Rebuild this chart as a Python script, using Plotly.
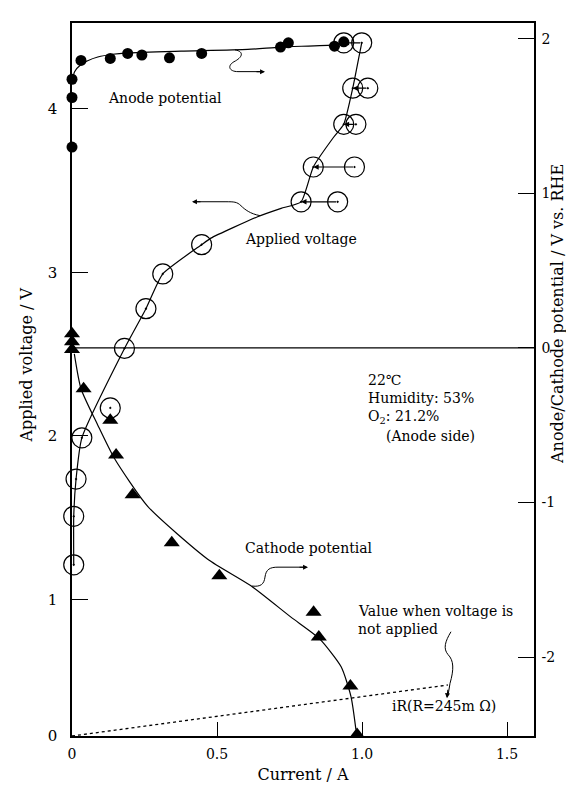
import plotly.graph_objects as go

# ---------------- data ----------------
# Applied voltage (left axis): current after settling, and the initial current (right circles)
applied_V = [1.211, 1.508, 1.736, 1.988, 2.171, 2.535, 2.778, 2.991, 3.170, 3.432, 3.645, 3.906, 4.127, 4.405]
applied_I = [0.006, 0.006, 0.014, 0.034, 0.132, 0.181, 0.255, 0.313, 0.447, 0.790, 0.832, 0.937, 0.968, 0.937]
initial_V = [3.432, 3.645, 3.906, 4.127, 4.405]
initial_I = [0.916, 0.974, 0.979, 1.020, 0.999]
# smooth curve drawn through the applied-voltage points
applied_fit_I = [0.006, 0.006, 0.014, 0.034, 0.181, 0.255, 0.313, 0.447, 0.479, 0.640, 0.721, 0.790, 0.832, 0.902, 0.937, 0.968, 0.991, 0.999]
applied_fit_V = [1.211, 1.508, 1.736, 1.988, 2.535, 2.778, 2.991, 3.170, 3.210, 3.341, 3.392, 3.432, 3.645, 3.827, 3.906, 4.127, 4.333, 4.405]

# Anode potential (right axis)
anode_I = [0.0, 0.0, 0.0, 0.031, 0.132, 0.192, 0.241, 0.336, 0.447, 0.719, 0.746, 0.905, 0.937]
anode_E = [1.738, 1.620, 1.299, 1.860, 1.873, 1.905, 1.895, 1.877, 1.905, 1.946, 1.974, 1.952, 1.980]
anode_fit_I = [0.0, 0.009, 0.031, 0.054, 0.089, 0.140, 0.192, 0.376, 0.606, 0.719, 0.905, 0.951]
anode_fit_E = [1.717, 1.787, 1.834, 1.858, 1.882, 1.900, 1.909, 1.920, 1.931, 1.946, 1.961, 1.974]

# Cathode potential (right axis)
cathode_I = [0.0, 0.0, 0.0, 0.040, 0.132, 0.152, 0.209, 0.344, 0.508, 0.833, 0.851, 0.960, 0.983]
cathode_E = [0.091, 0.040, -0.011, -0.264, -0.468, -0.693, -0.950, -1.260, -1.474, -1.710, -1.870, -2.188, -2.502]
cathode_fit_I = [0.008, 0.031, 0.089, 0.146, 0.261, 0.468, 0.617, 0.755, 0.853, 0.928, 0.962, 0.979]
cathode_fit_E = [-0.039, -0.264, -0.500, -0.714, -1.025, -1.367, -1.539, -1.742, -1.881, -2.063, -2.256, -2.470]

# iR line (R = 245 mOhm), value when voltage is not applied
ir_I = [0.0, 1.296]
ir_V = [0.164, 0.476]

# axis ticks
x_ticks = [0, 0.5, 1.0, 1.5]
x_ticktext = ["0", "0.5", "1.0", "1.5"]
yl_ticks = [0.164, 1, 2, 3, 4]
yl_ticktext = ["0", "1", "2", "3", "4"]
yr_ticks = [-2, -1, 0, 1, 2]
yr_ticktext = ["-2", "-1", "0", "1", "2"]

X_RANGE = [0, 1.593]
YL_RANGE = [0.164, 4.526]
YR_RANGE = [-2.511, 2.102]

# ---------------- layout geometry helpers ----------------
W, H = 574, 785
ML, MR, MT, MB = 64, 48, 15, 52
PW, PH = W - ML - MR, H - MT - MB


def px(xp):
    return (xp - ML) / PW


def py(yp):
    return (H - MB - yp) / PH


FONT = "DejaVu Serif"
BLACK = "black"

fig = go.Figure()

# zero line of right axis
fig.add_trace(go.Scatter(x=X_RANGE, y=[0, 0], yaxis="y2", mode="lines",
                         line=dict(color=BLACK, width=1.2), hoverinfo="skip"))
# iR dotted line
fig.add_trace(go.Scatter(x=ir_I, y=ir_V, yaxis="y", mode="lines",
                         line=dict(color=BLACK, width=1.3, dash="dot"), hoverinfo="skip"))
# curves
fig.add_trace(go.Scatter(x=applied_fit_I, y=applied_fit_V, yaxis="y", mode="lines",
                         line=dict(color=BLACK, width=1.2, shape="spline", smoothing=0.5)))
fig.add_trace(go.Scatter(x=anode_fit_I, y=anode_fit_E, yaxis="y2", mode="lines",
                         line=dict(color=BLACK, width=1.2, shape="spline", smoothing=0.6)))
fig.add_trace(go.Scatter(x=cathode_fit_I, y=cathode_fit_E, yaxis="y2", mode="lines",
                         line=dict(color=BLACK, width=1.2, shape="spline", smoothing=0.6)))
# markers
fig.add_trace(go.Scatter(x=initial_I, y=initial_V, yaxis="y", mode="markers", cliponaxis=False,
                         marker=dict(symbol="circle-open-dot", size=20, color=BLACK,
                                     line=dict(width=1.2, color=BLACK))))
fig.add_trace(go.Scatter(x=applied_I, y=applied_V, yaxis="y", mode="markers", cliponaxis=False,
                         marker=dict(symbol="circle-open-dot", size=20, color=BLACK,
                                     line=dict(width=1.2, color=BLACK))))
fig.add_trace(go.Scatter(x=anode_I, y=anode_E, yaxis="y2", mode="markers", cliponaxis=False,
                         marker=dict(symbol="circle", size=11, color=BLACK)))
fig.add_trace(go.Scatter(x=cathode_I, y=cathode_E, yaxis="y2", mode="markers", cliponaxis=False,
                         marker=dict(symbol="triangle-up", size=14, color=BLACK)))

annotations = []
# arrows from initial current to settled current
n = len(initial_V)
for xi, xf, v in zip(initial_I, applied_I[-n:], initial_V):
    annotations.append(dict(x=xf, y=v, ax=xi, ay=v, xref="x", yref="y", axref="x", ayref="y",
                            showarrow=True, arrowhead=2, arrowsize=0.9, arrowwidth=1.2,
                            arrowcolor=BLACK, standoff=0, startstandoff=0, text=""))


def label(text, x, y, anchor="left", size=14, angle=0):
    annotations.append(dict(text=text, x=px(x), y=py(y), xref="paper", yref="paper",
                            xanchor=anchor, yanchor="middle", showarrow=False, textangle=angle,
                            font=dict(family=FONT, size=size, color=BLACK)))


label("Anode potential", 98, 91)
label("Applied voltage", 235, 233)
label("Cathode potential", 235, 544)
label("22\u2103", 358, 374)
label("Humidity: 53%", 358, 393)
label("O<sub>2</sub>: 21.2%", 358, 412)
label("(Anode side)", 376, 431)
label("Value when voltage is", 348, 607)
label("not applied", 348, 625)
label("iR(R=245m \u03a9)", 382, 703)
# axis titles
label("Applied voltage / V", 19, 360, anchor="center", size=16, angle=-90)
label("Anode/Cathode potential / V vs. RHE", 550, 308, anchor="center", size=16, angle=-90)


def head(x, y, dx, dy):
    annotations.append(dict(x=px(x), y=py(y), xref="paper", yref="paper", ax=dx, ay=dy,
                            showarrow=True, arrowhead=2, arrowsize=0.9, arrowwidth=1.1,
                            arrowcolor=BLACK, standoff=0, text=""))


shapes = []


def curly(points):
    # points: list of pixel tuples; first is M, then "C" + 3 points or "L" + 1 point
    d = "M {:.4f},{:.4f}".format(px(points[0][0]), py(points[0][1]))
    i = 1
    while i < len(points):
        kind = points[i]
        if kind == "C":
            a, b, c = points[i + 1], points[i + 2], points[i + 3]
            d += " C {:.4f},{:.4f} {:.4f},{:.4f} {:.4f},{:.4f}".format(
                px(a[0]), py(a[1]), px(b[0]), py(b[1]), px(c[0]), py(c[1]))
            i += 4
        else:
            a = points[i + 1]
            d += " L {:.4f},{:.4f}".format(px(a[0]), py(a[1]))
            i += 2
    shapes.append(dict(type="path", path=d, xref="paper", yref="paper",
                       line=dict(color=BLACK, width=1.0)))


# anode potential pointer (to right axis)
curly([(227, 42), "C", (237, 44), (234, 50), (226, 54), "C", (219, 58), (221, 64), (230, 64), "L", (255, 64)])
head(257, 64, -10, 0)
# applied voltage pointer (to left axis)
curly([(252, 209), "C", (242, 207), (237, 203), (233, 199), "C", (229, 195), (226, 195), (218, 195), "L", (186, 195)])
head(184, 195, 10, 0)
# cathode potential pointer (to right axis)
curly([(244, 582), "C", (253, 583), (256, 580), (257, 573), "C", (258, 565), (262, 563), (270, 563), "L", (298, 563)])
head(300, 563, -10, 0)
# iR pointer
curly([(443, 628), "C", (437, 638), (435, 645), (440, 651), "C", (446, 657), (446, 666), (442, 680), "L", (440, 692)])
head(439, 695, 1, -10)

fig.update_layout(
    width=W, height=H,
    margin=dict(l=ML, r=MR, t=MT, b=MB),
    paper_bgcolor="white", plot_bgcolor="white",
    showlegend=False,
    font=dict(family=FONT, size=14, color=BLACK),
    annotations=annotations,
    shapes=shapes,
    xaxis=dict(range=X_RANGE, tickvals=x_ticks, ticktext=x_ticktext, ticks="inside", ticklen=14,
               tickwidth=1.3, tickcolor=BLACK, showline=True, linecolor=BLACK, linewidth=1.5,
               mirror=True, showgrid=False, zeroline=False,
               tickfont=dict(family=FONT, size=14), ticklabelstandoff=4,
               title=dict(text="Current / A", font=dict(family=FONT, size=16), standoff=8)),
    yaxis=dict(range=YL_RANGE, tickvals=yl_ticks, ticktext=yl_ticktext, ticks="inside", ticklen=16,
               tickwidth=1.3, tickcolor=BLACK, showline=True, linecolor=BLACK, linewidth=1.5,
               showgrid=False, zeroline=False, tickfont=dict(family=FONT, size=15),
               ticklabelstandoff=10),
    yaxis2=dict(range=YR_RANGE, tickvals=yr_ticks, ticktext=yr_ticktext, ticks="inside", ticklen=16,
                tickwidth=1.3, tickcolor=BLACK, showline=True, linecolor=BLACK, linewidth=1.5,
                overlaying="y", side="right", showgrid=False, zeroline=False,
                tickfont=dict(family=FONT, size=14), ticklabelstandoff=3),
)

fig.write_html("out.html")
